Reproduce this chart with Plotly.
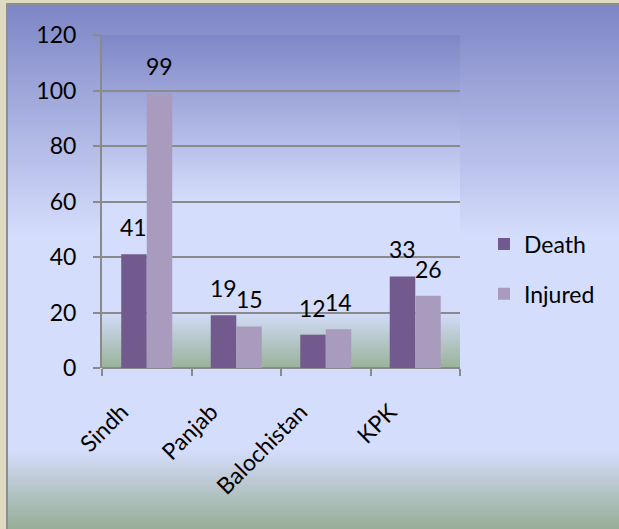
import base64
import struct
import zlib

import plotly.graph_objects as go

categories = ["Sindh", "Panjab", "Balochistan", "KPK"]
death = [41, 19, 12, 33]
injured = [99, 15, 14, 26]
series_names = ["Death", "Injured"]
y_ticks = [0, 20, 40, 60, 80, 100, 120]

W, H = 619, 529
ML, MR, MT, MB = 102, 159, 35, 161
PW, PH = W - ML - MR, H - MT - MB

FONT = "Lato"
FS = 23
C_DEATH = "#725a8e"
C_INJ = "#a99bbd"
GRID = "#8a8a8a"
PAD = "\u00a0" * 6


def px_x(px):
    return (px - ML) / PW


def px_y(py):
    return (H - MB - py) / PH


def hex2rgb(h):
    h = h.lstrip("#")
    return tuple(int(h[i:i + 2], 16) for i in (0, 2, 4))


def interp(stops, t):
    for (t0, c0), (t1, c1) in zip(stops, stops[1:]):
        if t0 <= t <= t1:
            f = 0 if t1 == t0 else (t - t0) / (t1 - t0)
            a, b = hex2rgb(c0), hex2rgb(c1)
            return tuple(round(a[k] + (b[k] - a[k]) * f) for k in range(3))
    return hex2rgb(stops[-1][1])


def gradient_png(stops, n=400, w=4):
    raw = b""
    for i in range(n):
        r, g, b = interp(stops, i / (n - 1))
        raw += b"\x00" + bytes([r, g, b]) * w

    def chunk(tag, data):
        c = struct.pack(">I", len(data)) + tag + data
        return c + struct.pack(">I", zlib.crc32(tag + data) & 0xFFFFFFFF)

    png = b"\x89PNG\r\n\x1a\n"
    png += chunk(b"IHDR", struct.pack(">IIBBBBB", w, n, 8, 2, 0, 0, 0))
    png += chunk(b"IDAT", zlib.compress(raw, 9))
    png += chunk(b"IEND", b"")
    return "data:image/png;base64," + base64.b64encode(png).decode()


outer_stops = [(0, "#7e86c6"), (0.44, "#d5ddfc"), (0.85, "#d5ddfc"), (1.0, "#98ae98")]
plot_stops = [(0, "#7f87c7"), (0.5, "#d5ddfc"), (0.83, "#d5ddfc"), (1.0, "#9ab39b")]
frame_stops = [(0, "#8e8e8e"), (1, "#8e8e8e")]

images = [
    dict(source=gradient_png(frame_stops, n=4), xref="paper", yref="paper",
         x=px_x(6), y=px_y(3), sizex=px_x(W + 5) - px_x(6),
         sizey=px_y(3) - px_y(H + 5), xanchor="left", yanchor="top",
         sizing="stretch", layer="below"),
    dict(source=gradient_png(outer_stops), xref="paper", yref="paper",
         x=px_x(8), y=px_y(5), sizex=px_x(W + 5) - px_x(8),
         sizey=px_y(5) - px_y(H), xanchor="left", yanchor="top",
         sizing="stretch", layer="below"),
    dict(source=gradient_png(plot_stops), xref="paper", yref="paper",
         x=0, y=1, sizex=1, sizey=1, xanchor="left", yanchor="top",
         sizing="stretch", layer="below"),
]

fig = go.Figure()
fig.add_trace(go.Bar(x=categories, y=death, name=series_names[0],
                     marker=dict(color=C_DEATH, line=dict(width=0)),
                     legendgroup="d"))
fig.add_trace(go.Bar(x=categories, y=injured, name=series_names[1],
                     marker=dict(color=C_INJ, line=dict(width=0)),
                     legendgroup="i"))

bargap = 0.43
bar_px = PW / len(categories) * (1 - bargap) / 2
annotations = []
for vals, sh in ((death, -bar_px / 2), (injured, bar_px / 2)):
    for c, v in zip(categories, vals):
        annotations.append(dict(x=c, y=v, text=str(v), showarrow=False,
                                xshift=sh, yshift=11, yanchor="bottom",
                                font=dict(family=FONT, size=FS, color="#000000")))

fig.update_layout(
    width=W, height=H,
    margin=dict(l=ML, r=MR, t=MT, b=MB, pad=0),
    paper_bgcolor="#dfdac2",
    plot_bgcolor="rgba(0,0,0,0)",
    barmode="group", bargap=bargap, bargroupgap=0,
    font=dict(family=FONT, size=FS, color="#000000"),
    images=images,
    annotations=annotations,
    showlegend=True,
    legend=dict(x=px_x(484), xanchor="left", y=px_y(269), yanchor="middle",
                bgcolor="rgba(0,0,0,0)", traceorder="grouped", tracegroupgap=17,
                font=dict(family=FONT, size=FS)),
    xaxis=dict(type="category", range=[-0.5, 3.5], showgrid=False,
               showline=False, ticks="outside", tickson="boundaries",
               ticklen=7, tickwidth=2, tickcolor=GRID, tickangle=-45,
               tickmode="array", tickvals=categories,
               ticktext=[c + PAD for c in categories],
               ticklabelstandoff=0, zeroline=False),
    yaxis=dict(range=[0, 120], tickvals=y_ticks, showgrid=True,
               gridcolor=GRID, gridwidth=2, showline=True, linecolor=GRID,
               linewidth=2, ticks="outside", ticklen=7, tickwidth=2,
               tickcolor=GRID, zeroline=True, zerolinecolor=GRID,
               zerolinewidth=2, ticklabelstandoff=12),
)

fig.write_html("out.html", config={"displayModeBar": False},
               post_script="document.body.style.margin='0';document.body.style.overflow='hidden';")
